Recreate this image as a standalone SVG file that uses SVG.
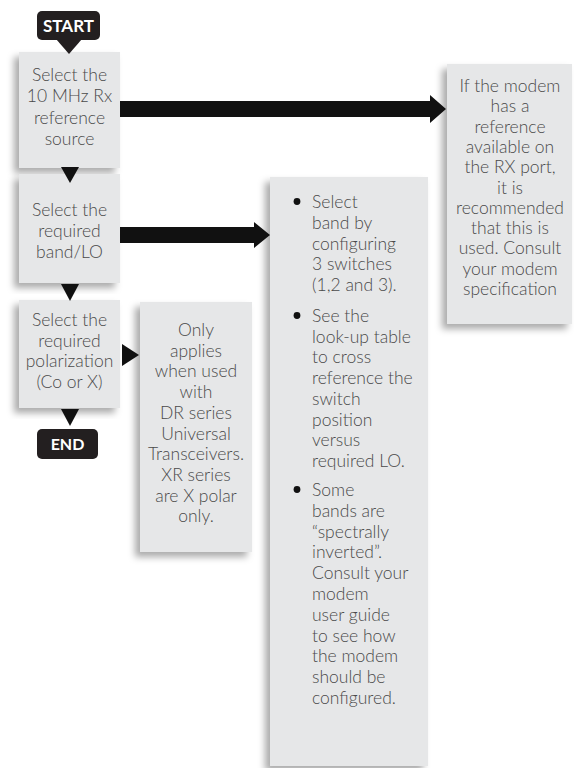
<svg xmlns="http://www.w3.org/2000/svg" width="574" height="768" viewBox="0 0 574 768">
<defs>
<filter id="sh" x="-20%" y="-10%" width="140%" height="120%">
<feDropShadow dx="-5" dy="5" stdDeviation="3.5" flood-color="#000" flood-opacity="0.33"/>
</filter>
</defs>
<style>
.box{fill:#e6e7e8;filter:url(#sh);}
.t{font-family:Lato,"Liberation Sans",sans-serif;font-weight:300;font-size:17.5px;fill:#4a4a4a;}
.c{text-anchor:middle;}
.term{fill:#231f20;}
.tt{font-family:Lato,"Liberation Sans",sans-serif;font-weight:700;fill:#fff;text-anchor:middle;}
.arr{fill:#111;}
.dot{fill:#111;}
</style>
<rect width="574" height="768" fill="#fff"/>

<g id="step1">
<rect class="box" x="19" y="52" width="101" height="116"/>
<text class="t c" x="69.5" y="81">Select the</text>
<text class="t c" x="69.5" y="102">10 MHz Rx</text>
<text class="t c" x="69.5" y="124">reference</text>
<text class="t c" x="69.5" y="145">source</text>
</g>
<g id="step2">
<rect class="box" x="19" y="174" width="101" height="109"/>
<text class="t c" x="69.5" y="216">Select the</text>
<text class="t c" x="69.5" y="237">required</text>
<text class="t c" x="69.5" y="258">band/LO</text>
</g>
<g id="step3">
<rect class="box" x="19" y="300" width="101" height="108"/>
<text class="t c" x="69.5" y="326">Select the</text>
<text class="t c" x="69.5" y="346.7">required</text>
<text class="t c" x="69.5" y="367.4">polarization</text>
<text class="t c" x="69.5" y="388">(Co or X)</text>
</g>
<g id="note-ref">
<rect class="box" x="447" y="64" width="125" height="260"/>
<text class="t c" x="510" y="92">If the modem</text>
<text class="t c" x="510" y="112.3">has a</text>
<text class="t c" x="510" y="132.6">reference</text>
<text class="t c" x="510" y="152.9">available on</text>
<text class="t c" x="510" y="173.2">the RX port,</text>
<text class="t c" x="510" y="193.5">it is</text>
<text class="t c" x="510" y="213.8">recommended</text>
<text class="t c" x="510" y="234.1">that this is</text>
<text class="t c" x="510" y="254.4">used. Consult</text>
<text class="t c" x="510" y="274.7">your modem</text>
<text class="t c" x="510" y="295">specification</text>
</g>
<g id="note-band">
<rect class="box" x="270" y="177" width="158" height="589"/>
<circle class="dot" cx="297" cy="201.5" r="3.4"/>
<text class="t" x="312" y="208">Select</text>
<text class="t" x="312" y="228.8">band by</text>
<text class="t" x="312" y="249.5">configuring</text>
<text class="t" x="312" y="270.3">3 switches</text>
<text class="t" x="312" y="291">(1,2 and 3).</text>
<circle class="dot" cx="297" cy="315.5" r="3.4"/>
<text class="t" x="312" y="322">See the</text>
<text class="t" x="312" y="342.7">look-up table</text>
<text class="t" x="312" y="363.4">to cross</text>
<text class="t" x="312" y="384.1">reference the</text>
<text class="t" x="312" y="404.8">switch</text>
<text class="t" x="312" y="425.5">position</text>
<text class="t" x="312" y="446.2">versus</text>
<text class="t" x="312" y="467">required LO.</text>
<circle class="dot" cx="297" cy="489.5" r="3.4"/>
<text class="t" x="312" y="496">Some</text>
<text class="t" x="312" y="516.8">bands are</text>
<text class="t" x="312" y="537.6">“spectrally</text>
<text class="t" x="312" y="558.4">inverted”.</text>
<text class="t" x="312" y="579.2">Consult your</text>
<text class="t" x="312" y="600">modem</text>
<text class="t" x="312" y="620.8">user guide</text>
<text class="t" x="312" y="641.6">to see how</text>
<text class="t" x="312" y="662.4">the modem</text>
<text class="t" x="312" y="683.2">should be</text>
<text class="t" x="312" y="704">configured.</text>
</g>
<g id="note-pol">
<rect class="box" x="140" y="302" width="112" height="250"/>
<text class="t c" x="196" y="336">Only</text>
<text class="t c" x="196" y="356.7">applies</text>
<text class="t c" x="196" y="377.4">when used</text>
<text class="t c" x="196" y="398.1">with</text>
<text class="t c" x="196" y="418.8">DR series</text>
<text class="t c" x="196" y="439.5">Universal</text>
<text class="t c" x="196" y="460.2">Transceivers.</text>
<text class="t c" x="196" y="480.9">XR series</text>
<text class="t c" x="196" y="501.6">are X polar</text>
<text class="t c" x="196" y="522.3">only.</text>
</g>
<g id="start">
<rect class="term" x="37" y="11" width="63" height="29" rx="5"/>
<polygon class="term" points="56,39 82,39 69,54"/>
<text class="tt" x="68.5" y="32" font-size="17">START</text>
</g>
<g id="end">
<rect class="term" x="37" y="429" width="61" height="30" rx="5"/>
<text class="tt" x="67.5" y="450" font-size="16">END</text>
</g>
<g id="connectors">
<polygon class="arr" points="61,167 79,167 70,183"/>
<polygon class="arr" points="61,284 79,284 70,301"/>
<polygon class="arr" points="61,409 79,409 70,426"/>
<polygon class="arr" points="120,101 430,101 430,95 446,109 430,123 430,117 120,117"/>
<polygon class="arr" points="120,227 254,227 254,222 270,235 254,248 254,243 120,243"/>
<polygon class="arr" points="122,344 139,355 122,366"/>
</g>
</svg>
